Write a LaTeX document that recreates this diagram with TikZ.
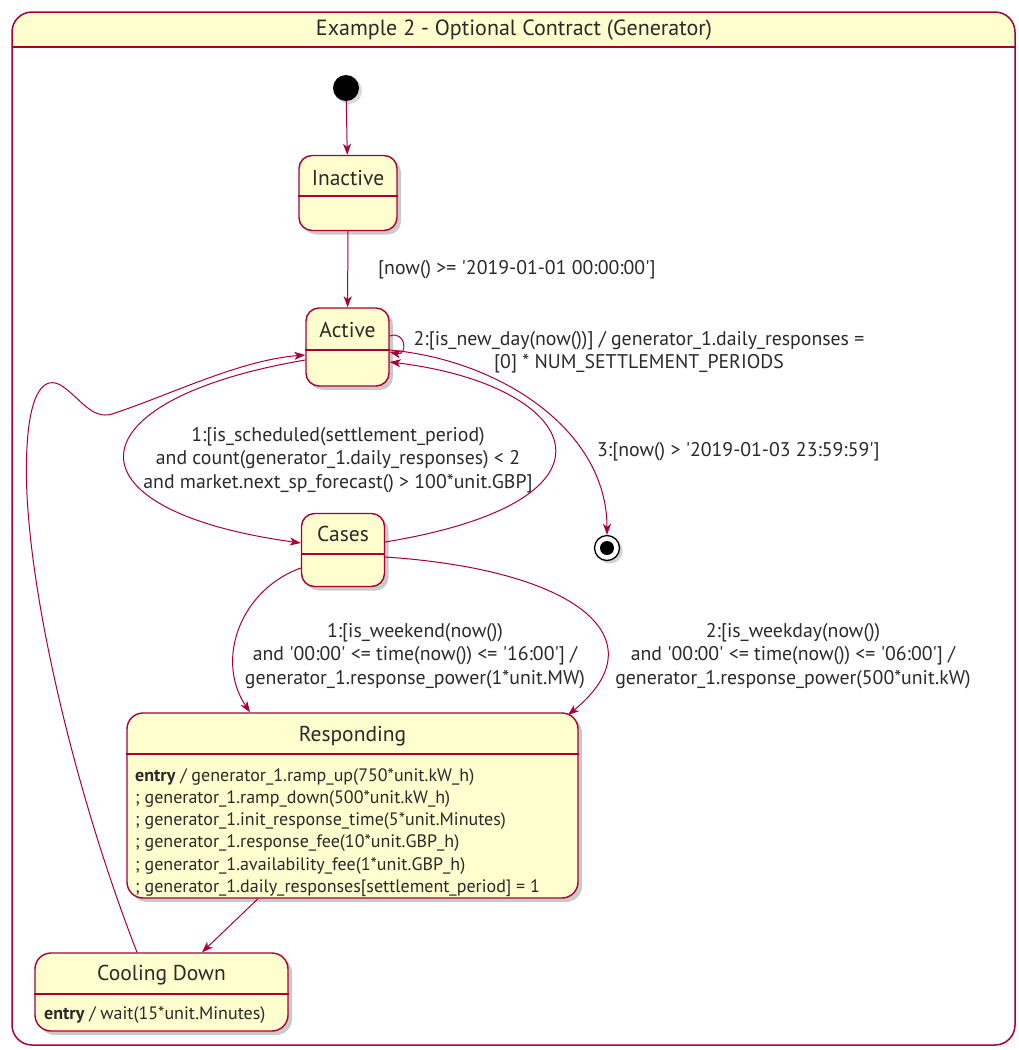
\documentclass[tikz,border=0pt]{standalone}
\usepackage{fontspec}
\newfontfamily\umlfont{PT Sans}
\usetikzlibrary{arrows.meta,shadows}
\definecolor{umlred}{HTML}{A80036}
\definecolor{umlfill}{HTML}{FEFECE}
\definecolor{umltext}{HTML}{2A2A2A}
\begin{document}
\begin{tikzpicture}[x=1pt,y=-1pt,
  every node/.style={text=umltext, inner sep=0pt},
  lbl/.style={font=\umlfont\fontsize{19.8}{23.5}\selectfont, align=center},
  statename/.style={font=\umlfont\fontsize{21.5}{24}\selectfont},
  entrytxt/.style={font=\umlfont\fontsize{18}{22}\selectfont, anchor=base west},
  statebox/.style={draw=umlred, fill=umlfill, line width=1.4pt, rounded corners=13pt,
     drop shadow={shadow xshift=4pt, shadow yshift=-4pt, opacity=0.35, fill=black!60}},
  sepline/.style={draw=umlred, line width=1.3pt},
  arr/.style={draw=umlred, line width=1pt, -{Stealth[length=11pt,width=8pt,inset=3pt]}},
  conn/.style={draw=umlred, line width=1pt}
]
\useasboundingbox (0,0) rectangle (1019,1050);
% outer composite state
\begin{scope}
  \clip (0,0) rectangle (1019,47);
  \fill[umlfill, rounded corners=20pt] (12,12) rectangle (1015,1045);
\end{scope}
\draw[umlred, line width=1.5pt, rounded corners=20pt] (12,12) rectangle (1015,1045);
\draw[sepline] (12,47) -- (1015,47);
\node[font=\umlfont\fontsize{22}{24}\selectfont] (title) at (514,30) {Example 2 - Optional Contract (Generator)};

% initial and final
\node[circle, fill=black, minimum size=26pt, drop shadow={shadow xshift=3pt, shadow yshift=-3pt, opacity=0.3}] (init) at (346,88) {};
\node[circle, draw=black, line width=1.3pt, fill=white, minimum size=25pt, drop shadow={shadow xshift=3pt, shadow yshift=-3pt, opacity=0.35}] (final) at (607,548) {};
\node[circle, fill=black, minimum size=14pt] (finaldot) at (final.center) {};

% states
\node[statebox, minimum width=98pt, minimum height=75pt] (inactive) at (348,193) {};
\draw[sepline] (inactive.west |- 0,196) -- (inactive.east |- 0,196);
\node[statename] (inactiveN) at (348,178) {Inactive};

\node[statebox, minimum width=83pt, minimum height=78pt] (active) at (347.5,347) {};
\draw[sepline] (active.west |- 0,350) -- (active.east |- 0,350);
\node[statename] (activeN) at (347.5,330) {Active};

\node[statebox, minimum width=83pt, minimum height=73pt] (cases) at (343,550) {};
\draw[sepline] (cases.west |- 0,554) -- (cases.east |- 0,554);
\node[statename] (casesN) at (343,534) {Cases};

\node[statebox, minimum width=451pt, minimum height=185pt, rounded corners=16pt] (resp) at (352.5,805.5) {};
\draw[sepline] (resp.west |- 0,754) -- (resp.east |- 0,754);
\node[statename] (respN) at (352.5,736) {Responding};
\node[entrytxt] (r1) at (135,781) {\textbf{entry} / generator\_1.ramp\_up(750*unit.kW\_h)};
\node[entrytxt] (r2) at (135,803) {; generator\_1.ramp\_down(500*unit.kW\_h)};
\node[entrytxt] (r3) at (135,825) {; generator\_1.init\_response\_time(5*unit.Minutes)};
\node[entrytxt] (r4) at (135,847.5) {; generator\_1.response\_fee(10*unit.GBP\_h)};
\node[entrytxt] (r5) at (135,870) {; generator\_1.availability\_fee(1*unit.GBP\_h)};
\node[entrytxt] (r6) at (135,892) {; generator\_1.daily\_responses[settlement\_period] = 1};

\node[statebox, minimum width=253pt, minimum height=78pt, rounded corners=16pt] (cool) at (161.5,992) {};
\draw[sepline] (cool.west |- 0,994) -- (cool.east |- 0,994);
\node[statename] (coolN) at (161.5,975) {Cooling Down};
\node[entrytxt] (c1) at (44,1019) {\textbf{entry} / wait(15*unit.Minutes)};

% transitions
\draw[arr] (init) -- (inactive);
\draw[arr] (inactive) -- (active);
\node[lbl, anchor=west] (lInact) at (378,270) {[now() >= '2019-01-01 00:00:00']};

\draw[arr] (active.east |- 0,336) .. controls (406,330) and (408,356) .. (active.east |- 0,352);
\node[lbl] (lNewDay) at (639,352) {2:[is\_new\_day(now())] / generator\_1.daily\_responses =\\{}[0] * NUM\_SETTLEMENT\_PERIODS};

\draw[arr] (active.east |- 0,350) .. controls (500,360) and (607,430) .. (final.north);
\node[lbl, anchor=west] (lEnd) at (597,452) {3:[now() > '2019-01-03 23:59:59']};

\draw[arr] (active.west |- 0,360) .. controls (70,400) and (60,510) .. (cases.west |- 0,543);
\node[lbl] (lSched) at (338,460) {1:[is\_scheduled(settlement\_period)\\and count(generator\_1.daily\_responses) < 2\\and market.next\_sp\_forecast() > 100*unit.GBP]};

\draw[arr] (cases.east |- 0,542) .. controls (640,500) and (580,385) .. (active.east |- 0,362);

\draw[arr] (cool.north -| 137,0) .. controls (70,780) and (20,560) .. (27,447)
   .. controls (30,390) and (45,375) .. (62,386)
   .. controls (80,398) and (92,420) .. (112,414)
   .. controls (170,395) and (240,360) .. (active.west |- 0,355);

\draw[arr] (cases.west |- 0,568) .. controls (240,590) and (215,660) .. (resp.north -| 250,0);
\node[lbl] (lWeekend) at (415,656) {1:[is\_weekend(now())\\and '00:00' <= time(now()) <= '16:00'] /\\generator\_1.response\_power(1*unit.MW)};

\draw[arr] (cases.east |- 0,557) .. controls (580,570) and (660,640) .. (568,715);
\node[lbl] (lWeekday) at (793,656) {2:[is\_weekday(now())\\and '00:00' <= time(now()) <= '06:00'] /\\generator\_1.response\_power(500*unit.kW)};

\draw[arr] (resp.south -| 258,0) -- (cool.north -| 202,0);
\end{tikzpicture}
\end{document}
